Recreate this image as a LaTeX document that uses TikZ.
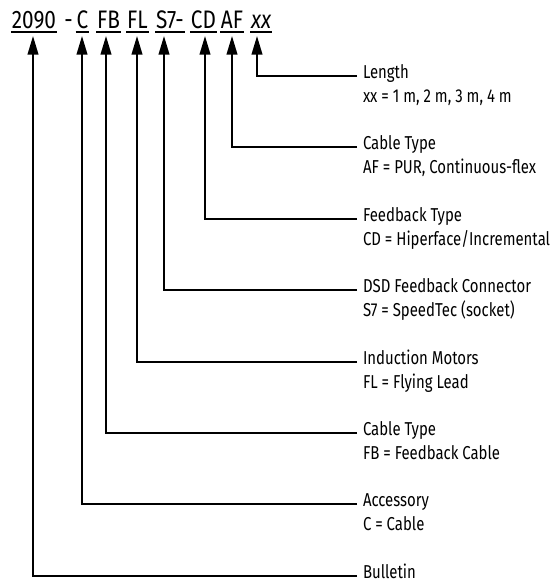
\documentclass[tikz,border=0pt]{standalone}
\usepackage{fontspec}
\setmainfont[FakeStretch=0.8]{Fira Sans}
\newfontfamily\codefont[FakeStretch=0.82]{Fira Sans}
\usetikzlibrary{arrows.meta,calc}

\tikzset{every picture/.style={line width=1.5pt}}
\tikzset{
  code/.style={inner xsep=0pt, inner ysep=2.6pt, text depth=0pt, anchor=base,
    font=\codefont\fontsize{19}{22}\selectfont},
  ttl/.style={inner sep=0pt, anchor=base west, font=\fontsize{14}{17}\selectfont},
  val/.style={ttl},
  uline/.style={line width=1.5pt},
  lead/.style={-{Triangle[length=14pt,width=8pt]}},
}

\begin{document}
\begin{tikzpicture}[x=0.75pt,y=0.75pt,yscale=-1,xscale=1]
\useasboundingbox (0,0) rectangle (551,583);

% Catalog number
\node[code] (c2090) at (34,28) {2090};
\node[code] (cdash) at (68.5,28) {-};
\node[code] (cC) at (82.5,28) {C};
\node[code] (cFB) at (108.5,28) {FB};
\node[code] (cFL) at (137.5,28) {FL};
\node[code] (cS7) at (170,28) {S7-};
\node[code] (cCD) at (203.5,28) {CD};
\node[code] (cAF) at (232,28) {AF};
\node[code] (cxx) at (261,28) {\itshape xx};
\foreach \n in {c2090,cC,cFB,cFL,cS7,cCD,cAF,cxx}
  \draw[uline] (\n.south west) -- (\n.south east);

% Arrow tips
\coordinate (t2090) at (33,36);
\coordinate (tC) at (82,36);
\coordinate (tFB) at (106,36);
\coordinate (tFL) at (137,36);
\coordinate (tS7) at (164,36);
\coordinate (tCD) at (205,36);
\coordinate (tAF) at (232,36);
\coordinate (txx) at (257,36);

% Text Nodes
\node[ttl] (lenT) at (362,78.5) {Length};
\node[val] (lenV) at (362,102.5) {xx = 1 m, 2 m, 3 m, 4 m};
\node[ttl] (afT) at (362,149.9) {Cable Type};
\node[val] (afV) at (362,173.9) {AF = PUR, Continuous-flex};
\node[ttl] (cdT) at (362,221.3) {Feedback Type};
\node[val] (cdV) at (362,245.3) {CD = Hiperface/Incremental};
\node[ttl] (s7T) at (362,292.7) {DSD Feedback Connector};
\node[val] (s7V) at (362,316.7) {S7 = SpeedTec (socket)};
\node[ttl] (flT) at (362,364.1) {Induction Motors};
\node[val] (flV) at (362,388.1) {FL = Flying Lead};
\node[ttl] (fbT) at (362,435.5) {Cable Type};
\node[val] (fbV) at (362,459.5) {FB = Feedback Cable};
\node[ttl] (accT) at (362,506.9) {Accessory};
\node[val] (accV) at (362,530.9) {C = Cable};
\node[ttl] (bulT) at (362,578.3) {Bulletin};

% Leaders
\draw[lead] ($(lenT.base west)+(-5,-2.5)$) -| (txx);
\draw[lead] ($(afT.base west)+(-5,-2.5)$) -| (tAF);
\draw[lead] ($(cdT.base west)+(-5,-2.5)$) -| (tCD);
\draw[lead] ($(s7T.base west)+(-5,-2.5)$) -| (tS7);
\draw[lead] ($(flT.base west)+(-5,-2.5)$) -| (tFL);
\draw[lead] ($(fbT.base west)+(-5,-2.5)$) -| (tFB);
\draw[lead] ($(accT.base west)+(-5,-2.5)$) -| (tC);
\draw[lead] ($(bulT.base west)+(-5,-2.5)$) -| (t2090);

\end{tikzpicture}
\end{document}
